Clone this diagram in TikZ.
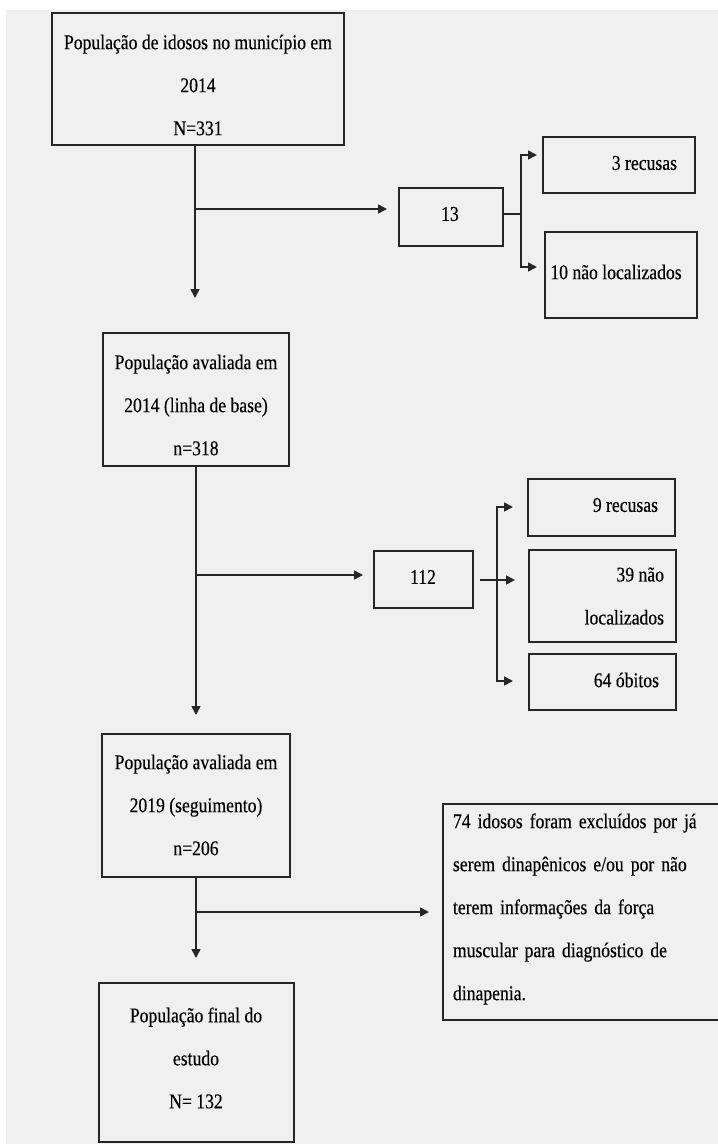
\documentclass[tikz,border=0pt]{standalone}
\usepackage{fontspec}
\setmainfont{Liberation Serif}
\newfontfamily\cond[FakeStretch=0.84,FakeBold=0.35]{Liberation Serif}
\usetikzlibrary{arrows.meta}
\definecolor{bggray}{HTML}{F0F0F0}
\definecolor{ink}{HTML}{262626}
\tikzset{
  boxnode/.style={draw=ink, line width=2pt, inner sep=0pt, outer sep=0pt},
  txt/.style={inner sep=0pt, outer sep=0pt, text=black, font=\cond\fontsize{21}{43}\selectfont},
  conn/.style={draw=ink, line width=1.6pt},
  arr/.style={conn, -{Triangle[length=9pt,width=9pt]}}
}
\begin{document}
\begin{tikzpicture}[x=1pt,y=-1pt]
\useasboundingbox (0,0) rectangle (718,1144);
\clip (0,0) rectangle (718,1144);
\fill[white] (0,0) rectangle (718,1144);
\fill[bggray] (6,10) rectangle (718,1144);

% boxes
\node[boxnode, minimum width=292pt, minimum height=132pt] (b1) at (198,79) {};
\node[boxnode, minimum width=104pt, minimum height=58pt] (b13) at (451,217) {};
\node[boxnode, minimum width=152pt, minimum height=56pt] (br3) at (619,165) {};
\node[boxnode, minimum width=152pt, minimum height=86pt] (bn10) at (621,275) {};
\node[boxnode, minimum width=186pt, minimum height=133pt] (b2) at (196,399.5) {};
\node[boxnode, minimum width=99pt, minimum height=57pt] (b112) at (423.5,579.5) {};
\node[boxnode, minimum width=147pt, minimum height=57pt] (br9) at (601.5,507.5) {};
\node[boxnode, minimum width=147pt, minimum height=92pt] (bn39) at (602.5,596) {};
\node[boxnode, minimum width=147pt, minimum height=56pt] (bo64) at (602.5,682) {};
\node[boxnode, minimum width=188pt, minimum height=143pt] (b3) at (196,805.5) {};
\node[boxnode, minimum width=290pt, minimum height=216pt] (b74) at (588,912) {};
\node[boxnode, minimum width=195pt, minimum height=159pt] (b4) at (196.5,1062.5) {};

% texts
\node[txt, align=center] (t1) at (198,85) {População de idosos no município em\\2014\\N=331};
\node[txt] (t13) at (450,214) {13};
\node[txt, anchor=east] (tr3) at (677,163) {3 recusas};
\node[txt] (tn10) at (616,272) {10 não localizados};
\node[txt, align=center] (t2) at (196,405) {População avaliada em\\2014 (linha de base)\\n=318};
\node[txt] (t112) at (423,577) {112};
\node[txt, anchor=east] (tr9) at (658,505) {9 recusas};
\node[txt, align=right, anchor=east] (tn39) at (664,596) {39 não\\localizados};
\node[txt, anchor=east] (to64) at (659,680) {64 óbitos};
\node[txt, align=center] (t3) at (196,805) {População avaliada em\\2019 (seguimento)\\n=206};
\node[txt, align=left, anchor=west, text width=254pt] (t74) at (453,909) {%
\makebox[254pt][s]{74 idosos foram excluídos por já}\\
\makebox[254pt][s]{serem dinapênicos e/ou por não}\\
\makebox[254pt][s]{terem informações da força}\\
\makebox[254pt][s]{muscular para diagnóstico de}\\
dinapenia.};
\node[txt, align=center] (t4) at (196,1058) {População final do\\estudo\\N= 132};

% junction / free-end coordinates
\coordinate (j1) at (195,209);
\coordinate (e1) at (195,298);
\coordinate (a13) at (387,209);
\coordinate (s1) at (521,214);
\coordinate (ar3) at (537,155);
\coordinate (an10) at (537,267);
\coordinate (e2) at (196,715);
\coordinate (j2) at (196,575);
\coordinate (a112) at (363,575);
\coordinate (o112) at (480,580);
\coordinate (a39) at (515,580);
\coordinate (v2) at (497,595);
\coordinate (ar9) at (513,507);
\coordinate (ao64) at (513,681);
\coordinate (e3) at (196,958);
\coordinate (j3) at (196,912);
\coordinate (a74) at (429,912);

% connectors
\draw[arr] (j1 |- b1.south) -- (e1);
\draw[arr] (j1) -- (a13);
\draw[conn] (b13.east |- s1) -- (s1);
\draw[arr] (s1) |- (ar3);
\draw[arr] (s1) |- (an10);
\draw[arr] (b2.south) -- (e2);
\draw[arr] (j2) -- (a112);
\draw[arr] (o112) -- (a39);
\draw[arr] (v2) |- (ar9);
\draw[arr] (v2) |- (ao64);
\draw[arr] (b3.south) -- (e3);
\draw[arr] (j3) -- (a74);
\end{tikzpicture}
\end{document}
